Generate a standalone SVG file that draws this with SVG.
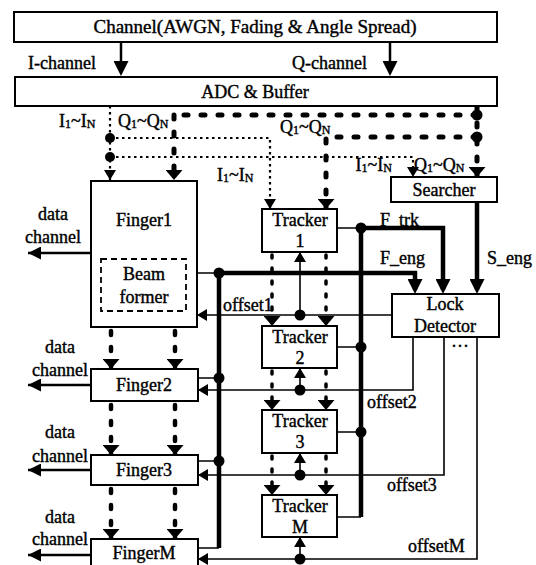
<svg xmlns="http://www.w3.org/2000/svg" width="536" height="565" viewBox="0 0 536 565">
<style>
.box{fill:#fff;stroke:#000;stroke-width:2}
.bf{fill:none;stroke:#000;stroke-width:1.8;stroke-dasharray:6 4}
.t{font-family:'Liberation Serif','DejaVu Serif',serif;font-size:18px;fill:#000;stroke:#000;stroke-width:0.4}
.m{text-anchor:middle}
.e{text-anchor:end}
.s{font-size:12px}
.thin{fill:none;stroke:#000;stroke-width:1.6}
.med{fill:none;stroke:#000;stroke-width:2.5}
.thick{fill:none;stroke:#000;stroke-width:4.5}
.idot{fill:none;stroke:#000;stroke-width:2.2;stroke-dasharray:2.5 3.5}
.qd{fill:none;stroke:#000;stroke-width:5;stroke-dasharray:4 13;stroke-linecap:round}
.fd{fill:none;stroke:#000;stroke-width:4.5;stroke-dasharray:4 12;stroke-linecap:round}
.td{fill:none;stroke:#000;stroke-width:3.5;stroke-dasharray:3 10;stroke-linecap:round}
.jd{fill:#000}
</style>
<defs>
<marker id="mBig" viewBox="0 0 10 10" refX="7" refY="5" markerWidth="15" markerHeight="15" markerUnits="userSpaceOnUse" orient="auto" preserveAspectRatio="none"><path d="M0,0L10,5L0,10z" fill="#000"/></marker>
<marker id="mMed" viewBox="0 0 10 10" refX="10" refY="5" markerWidth="13" markerHeight="13" markerUnits="userSpaceOnUse" orient="auto" preserveAspectRatio="none"><path d="M0,0L10,5L0,10z" fill="#000"/></marker>
<marker id="mSm" viewBox="0 0 10 10" refX="10" refY="5" markerWidth="10" markerHeight="12" markerUnits="userSpaceOnUse" orient="auto" preserveAspectRatio="none"><path d="M0,0L10,5L0,10z" fill="#000"/></marker>
<marker id="mQ" viewBox="0 0 10 10" refX="10" refY="5" markerWidth="10" markerHeight="17" markerUnits="userSpaceOnUse" orient="auto" preserveAspectRatio="none"><path d="M0,0L10,5L0,10z" fill="#000"/></marker>
</defs>
<rect width="536" height="565" fill="#fff"/>

<g id="connectors">
<path class="med" d="M121,42V71.5" marker-end="url(#mBig)"/>
<path class="med" d="M390,42V71.5" marker-end="url(#mBig)"/>
<path class="idot" d="M110,106V180" marker-end="url(#mSm)"/>
<path class="idot" d="M110,138H270V209" marker-end="url(#mSm)"/>
<path class="idot" d="M110,157H413V177" marker-end="url(#mSm)"/>
<path class="qd" d="M477,115H174"/>
<path class="qd" d="M174,115V180" marker-end="url(#mQ)"/>
<path class="qd" d="M477,106V177" marker-end="url(#mQ)"/>
<path class="qd" d="M477,137H326V209" marker-end="url(#mQ)"/>
<path class="fd" d="M111,331V369" marker-end="url(#mQ)"/>
<path class="fd" d="M175,331V369" marker-end="url(#mQ)"/>
<path class="fd" d="M111,405V455" marker-end="url(#mQ)"/>
<path class="fd" d="M175,405V455" marker-end="url(#mQ)"/>
<path class="fd" d="M111,489V539" marker-end="url(#mQ)"/>
<path class="fd" d="M175,489V539" marker-end="url(#mQ)"/>
<path class="td" d="M272,255V326" marker-end="url(#mQ)"/>
<path class="td" d="M326,255V326" marker-end="url(#mQ)"/>
<path class="td" d="M272,371V410" marker-end="url(#mQ)"/>
<path class="td" d="M326,371V410" marker-end="url(#mQ)"/>
<path class="td" d="M272,456V495" marker-end="url(#mQ)"/>
<path class="td" d="M326,456V495" marker-end="url(#mQ)"/>
<path class="med" d="M91,253H28" marker-end="url(#mMed)"/>
<path class="med" d="M91,385H28" marker-end="url(#mMed)"/>
<path class="med" d="M91,470H28" marker-end="url(#mMed)"/>
<path class="med" d="M91,555H28" marker-end="url(#mMed)"/>
<path class="thin" d="M197,273H219M197,378H219M197,461H219M198,548H219"/>
<path class="thick" d="M219,273V548"/>
<path class="thick" d="M219,273H415V289.5" marker-end="url(#mBig)"/>
<path class="thin" d="M337,228H361M337,347H361M337,432H361M337,517H361"/>
<path class="thick" d="M361,228V517"/>
<path class="thick" d="M361,228H443V289.5" marker-end="url(#mBig)"/>
<path class="thick" d="M477,202V289.5" marker-end="url(#mBig)"/>
<path class="thin" d="M392,315H197" marker-end="url(#mSm)"/>
<path class="thin" d="M300,315V252" marker-end="url(#mSm)"/>
<path class="thin" d="M413,337V390H198" marker-end="url(#mSm)"/>
<path class="thin" d="M300,390V368" marker-end="url(#mSm)"/>
<path class="thin" d="M444,337V475H198" marker-end="url(#mSm)"/>
<path class="thin" d="M300,475V453" marker-end="url(#mSm)"/>
<path class="thin" d="M477,337V559H198" marker-end="url(#mSm)"/>
<path class="thin" d="M300,559V537" marker-end="url(#mSm)"/>
<circle class="jd" cx="110" cy="138" r="5"/>
<circle class="jd" cx="110" cy="157" r="5"/>
<circle class="jd" cx="477" cy="115" r="5.5"/>
<circle class="jd" cx="477" cy="137" r="5.5"/>
<circle class="jd" cx="219" cy="273" r="5.5"/>
<circle class="jd" cx="219" cy="378" r="5.5"/>
<circle class="jd" cx="219" cy="461" r="5.5"/>
<circle class="jd" cx="361" cy="228" r="5.5"/>
<circle class="jd" cx="361" cy="347" r="5.5"/>
<circle class="jd" cx="361" cy="432" r="5.5"/>
<circle class="jd" cx="300" cy="315" r="5.5"/>
<circle class="jd" cx="300" cy="390" r="5.5"/>
<circle class="jd" cx="300" cy="475" r="5.5"/>
<circle class="jd" cx="300" cy="559" r="5.5"/>
</g>

<g id="labels">
<text class="t" x="28" y="69">I-channel</text>
<text class="t e" x="367" y="69">Q-channel</text>
<text class="t" x="59" y="127">I<tspan class="s" dy="1">1</tspan><tspan dy="-1">~I</tspan><tspan class="s" dy="1">N</tspan></text>
<text class="t" x="118" y="127">Q<tspan class="s" dy="1">1</tspan><tspan dy="-1">~Q</tspan><tspan class="s" dy="1">N</tspan></text>
<text class="t" x="280" y="133">Q<tspan class="s" dy="1">1</tspan><tspan dy="-1">~Q</tspan><tspan class="s" dy="1">N</tspan></text>
<text class="t" x="217" y="181">I<tspan class="s" dy="1">1</tspan><tspan dy="-1">~I</tspan><tspan class="s" dy="1">N</tspan></text>
<text class="t e" x="392" y="171">I<tspan class="s" dy="1">1</tspan><tspan dy="-1">~I</tspan><tspan class="s" dy="1">N</tspan></text>
<text class="t" x="414" y="171">Q<tspan class="s" dy="1">1</tspan><tspan dy="-1">~Q</tspan><tspan class="s" dy="1">N</tspan></text>
<text class="t m" x="53" y="220">data</text>
<text class="t m" x="53" y="243">channel</text>
<text class="t m" x="60" y="353">data</text>
<text class="t m" x="60" y="376">channel</text>
<text class="t m" x="60" y="438">data</text>
<text class="t m" x="60" y="462">channel</text>
<text class="t m" x="60" y="523">data</text>
<text class="t m" x="60" y="545">channel</text>
<text class="t" x="380" y="226">F_trk</text>
<text class="t" x="380" y="264">F_eng</text>
<text class="t" x="487" y="264">S_eng</text>
<text class="t" x="223" y="311">offset1</text>
<text class="t" x="367" y="408">offset2</text>
<text class="t" x="387" y="491">offset3</text>
<text class="t" x="408" y="552">offsetM</text>
<text class="t m" x="460" y="352">···</text>
</g>

<g id="channel"><rect class="box" x="14" y="12" width="483" height="30"/><text class="t m" x="255" y="33" style="font-size:19px">Channel(AWGN, Fading &amp; Angle Spread)</text></g>
<g id="adc"><rect class="box" x="15" y="77" width="482" height="29"/><text class="t m" x="255" y="98">ADC &amp; Buffer</text></g>
<g id="searcher"><rect class="box" x="391" y="177" width="106" height="25"/><text class="t m" x="444" y="196">Searcher</text></g>
<g id="finger1"><rect class="box" x="91" y="181" width="106" height="146"/><text class="t m" x="144" y="226">Finger1</text>
<rect class="bf" x="101" y="259" width="85" height="52"/><text class="t m" x="144" y="280">Beam</text><text class="t m" x="144" y="303">former</text></g>
<g id="finger2"><rect class="box" x="91" y="369" width="107" height="32"/><text class="t m" x="144" y="391">Finger2</text></g>
<g id="finger3"><rect class="box" x="91" y="455" width="107" height="30"/><text class="t m" x="144" y="476">Finger3</text></g>
<g id="fingerM"><rect class="box" x="91" y="539" width="107" height="28"/><text class="t m" x="144" y="559">FingerM</text></g>
<g id="tracker1"><rect class="box" x="262" y="209" width="75" height="43"/><text class="t m" x="300" y="226">Tracker</text><text class="t m" x="300" y="247">1</text></g>
<g id="tracker2"><rect class="box" x="262" y="326" width="75" height="42"/><text class="t m" x="300" y="343">Tracker</text><text class="t m" x="300" y="364">2</text></g>
<g id="tracker3"><rect class="box" x="262" y="410" width="75" height="43"/><text class="t m" x="300" y="427">Tracker</text><text class="t m" x="300" y="448">3</text></g>
<g id="trackerM"><rect class="box" x="262" y="495" width="75" height="42"/><text class="t m" x="300" y="512">Tracker</text><text class="t m" x="300" y="533">M</text></g>
<g id="lockdetector"><rect class="box" x="392" y="294" width="107" height="43"/><text class="t m" x="445" y="310">Lock</text><text class="t m" x="445" y="332">Detector</text></g>
</svg>
